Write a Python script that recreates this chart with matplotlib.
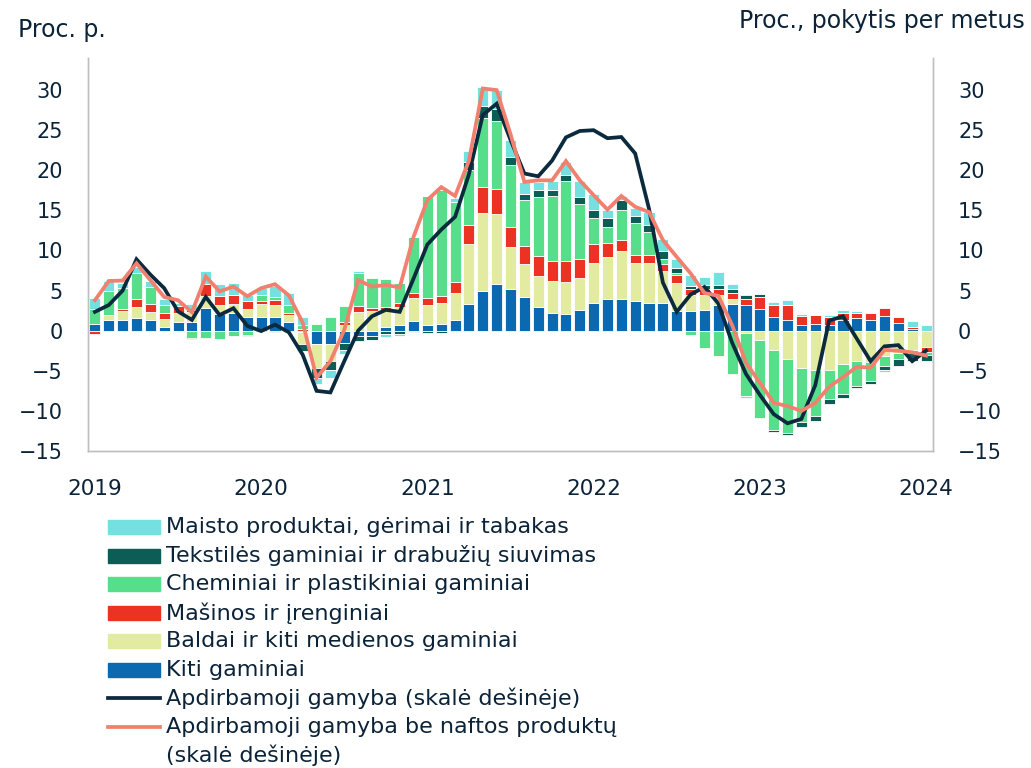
import numpy as np
import matplotlib

matplotlib.use("Agg")
import matplotlib.pyplot as plt
from matplotlib.patches import Rectangle
from matplotlib.lines import Line2D

# monthly observations, Jan 2019 .. Jan 2024 (61 months)
years = ["2019", "2020", "2021", "2022", "2023", "2024"]

kiti = [0.85, 1.3, 1.35, 1.55, 1.3, 0.45, 1.05, 1.1, 2.8, 2.1, 2.2, 1.65,
        1.75, 1.65, 1.05, -0.15, -1.65, -1.7, -1.5, -0.7, -0.65, 0.5, 0.65, 1.2,
        0.65, 0.8, 1.3, 3.3, 4.9, 5.8, 5.2, 4.25, 3.0, 2.2, 2.05, 2.6,
        3.5, 3.95, 3.95, 3.65, 3.5, 3.5, 2.5, 2.4, 2.6, 3.2, 3.35, 3.15,
        2.75, 1.7, 1.35, 0.75, 0.85, 0.75, 1.35, 1.55, 1.3, 1.85, 0.95, 0.2,
        0.0]
baldai = [0.0, 0.6, 1.15, 1.45, 1.05, 1.0, 1.2, 1.2, 1.5, 1.05, 1.1, 1.05,
          1.55, 1.6, 0.85, -1.5, -3.0, -2.05, 0.7, 2.35, 2.5, 2.05, 2.25, 2.9,
          2.55, 2.7, 3.45, 7.55, 9.8, 8.8, 5.2, 4.05, 3.8, 4.0, 4.05, 3.95,
          5.0, 5.3, 6.0, 4.85, 4.95, 3.95, 3.5, 2.1, 1.85, 1.2, 0.6, -0.3,
          -1.2, -2.45, -3.5, -4.65, -4.85, -4.85, -4.1, -3.8, -3.95, -3.1, -2.8, -2.35,
          -2.05]
masinos = [-0.4, 0.0, 0.25, 0.9, 0.95, 0.7, 0.85, 0.3, 1.5, 1.15, 1.15, 0.95,
           0.45, 0.55, 0.3, 0.15, 0.0, 0.0, 0.4, 0.7, 0.3, 0.35, 0.5, 0.6,
           0.85, 0.85, 1.3, 2.35, 3.2, 3.1, 2.5, 2.25, 2.5, 2.5, 2.55, 2.4,
           2.3, 1.65, 1.3, 0.95, 0.95, 0.9, 0.95, 0.75, 0.8, 0.8, 0.7, 0.8,
           1.5, 1.5, 1.8, 1.1, 1.1, 0.95, 0.8, 0.6, 0.85, 0.95, 0.75, 0.2,
           -0.55]
cheminiai = [1.85, 3.0, 2.55, 3.25, 2.15, 1.05, -0.15, -0.9, -0.85, -1.0, -0.6, -0.5,
             0.7, 0.4, 0.95, 0.6, 0.85, 1.75, 2.0, 4.2, 3.75, 3.5, 2.55, 6.95,
             12.7, 13.25, 9.95, 6.8, 8.6, 8.4, 7.75, 5.7, 7.4, 8.05, 10.05, 6.9,
             3.2, 2.05, 3.75, 3.95, 2.9, 0.6, 0.3, -0.5, -2.15, -3.1, -5.45, -7.9,
             -9.7, -9.95, -9.2, -6.75, -5.8, -3.7, -3.85, -3.1, -2.35, -1.25, -0.75, -0.4,
             -0.4]
tekstile = [0.0, 0.0, 0.0, 0.0, 0.0, 0.0, 0.0, -0.12, 0.0, 0.0, 0.0, -0.12,
            0.0, -0.15, 0.0, -0.9, -1.3, -1.1, -0.85, -0.55, -0.5, -0.45, -0.45, -0.2,
            -0.3, -0.25, 0.0, 1.0, 1.5, 1.6, 0.95, 0.75, 0.85, 0.85, 0.7, 0.8,
            1.05, 1.05, 1.35, 0.9, 0.9, 0.95, 0.6, 0.3, 0.4, 0.55, 0.55, 0.45,
            0.3, -0.2, -0.3, -0.55, -0.6, -0.55, -0.4, -0.2, -0.4, -0.6, -0.9, -1.0,
            -0.75]
maisto = [1.35, 1.3, 0.6, 0.8, 0.8, 0.8, 0.3, 0.7, 1.65, 1.5, 1.45, 0.85,
          0.85, 1.35, 1.6, 1.0, -0.7, -1.1, -0.5, 0.2, -0.15, -0.3, -0.2, 0.0,
          0.0, 0.3, 0.6, 1.45, 2.35, 2.3, 2.15, 1.55, 0.95, 1.1, 1.65, 2.05,
          2.05, 1.05, 0.5, 0.95, 1.55, 1.55, 1.05, 1.4, 1.05, 1.6, 0.6, -0.2,
          0.2, 0.35, 0.7, 0.2, 0.05, 0.3, 0.4, 0.35, 0.1, -0.2, 0.15, 0.75,
          0.65]

# right axis: annual change of manufacturing output
gamyba = [2.35, 3.2, 5.0, 8.9, 7.0, 5.3, 2.4, 1.35, 4.2, 1.95, 2.8, 0.6,
          -0.05, 0.75, -0.2, -3.0, -7.5, -7.7, -3.8, 0.0, 1.8, 2.6, 2.35, 6.5,
          10.75, 12.6, 14.2, 19.5, 26.9, 28.3, 23.8, 19.6, 19.25, 21.2, 24.1, 24.9,
          25.0, 24.0, 24.15, 22.1, 15.2, 6.0, 2.35, 4.5, 5.45, 3.4, -1.5, -5.4,
          -8.0, -10.4, -11.55, -11.0, -6.8, 1.25, 1.8, -1.0, -3.8, -1.95, -1.8, -3.8,
          -2.5]
be_naftos = [3.8, 6.2, 6.25, 8.4, 6.3, 4.2, 3.8, 2.3, 6.75, 4.9, 5.5, 4.3,
             5.3, 5.8, 4.4, 1.0, -5.85, -3.8, 0.1, 6.3, 5.5, 5.7, 5.4, 11.7,
             16.3, 17.9, 16.8, 21.2, 30.2, 30.0, 24.5, 18.55, 18.75, 18.75, 21.15, 18.75,
             16.9, 15.1, 16.8, 15.45, 14.8, 11.3, 9.2, 7.15, 4.7, 4.35, 0.7, -4.0,
             -6.5, -9.0, -9.4, -10.0, -9.0, -7.0, -5.8, -4.5, -4.6, -2.4, -2.5, -2.7,
             -3.1]

TXT = "#0B2338"
series = [
    ("Kiti gaminiai", kiti, "#0A69B0"),
    ("Baldai ir kiti medienos gaminiai", baldai, "#E2EBA0"),
    ("Mašinos ir įrenginiai", masinos, "#EC3223"),
    ("Cheminiai ir plastikiniai gaminiai", cheminiai, "#56DE8A"),
    ("Tekstilės gaminiai ir drabužių siuvimas", tekstile, "#0B5D55"),
    ("Maisto produktai, gėrimai ir tabakas", maisto, "#75E0E0"),
]
lines = [
    ("Apdirbamoji gamyba (skalė dešinėje)", gamyba, "#0C2A3E"),
    ("Apdirbamoji gamyba be naftos produktų\n(skalė dešinėje)", be_naftos, "#F2806F"),
]

plt.rcParams["font.family"] = "DejaVu Sans"
fig = plt.figure(figsize=(10.31, 7.68), dpi=100)
ax = fig.add_axes([88 / 1031, 1 - 451 / 768, (933 - 88) / 1031, (451 - 58) / 768])

x = np.arange(len(kiti))
pos = np.zeros(len(x))
neg = np.zeros(len(x))
for label, vals, color in series:
    v = np.asarray(vals, dtype=float)
    base = np.where(v >= 0, pos, neg)
    ax.bar(x, v, bottom=base, width=0.8, color=color, edgecolor="white", linewidth=0.6)
    pos += np.clip(v, 0, None)
    neg += np.clip(v, None, 0)

ax2 = ax.twinx()
for label, vals, color in lines:
    ax2.plot(x, vals, color=color, lw=2.7, solid_joinstyle="miter")

ticks = list(range(-15, 31, 5))
for a in (ax, ax2):
    a.set_ylim(-15, 34)
    a.set_yticks(ticks)
    a.set_yticklabels([str(v).replace("-", "\u2212") for v in ticks])
    a.set_xlim(-0.5, 60.5)
    a.tick_params(length=0, labelsize=15, colors=TXT, pad=18)
    a.spines["top"].set_visible(False)
    for s in ("left", "right", "bottom"):
        a.spines[s].set_color("#BFBFBF")
        a.spines[s].set_linewidth(1.0)
ax.set_xticks(np.arange(0, 61, 12))
ax.set_xticklabels(years)
ax.tick_params(axis="x", pad=20, labelsize=15.5)

fig.text(18 / 1031, 1 - 30 / 768, "Proc. p.", fontsize=17, color=TXT, va="center", ha="left")
fig.text(1025 / 1031, 1 - 21 / 768, "Proc., pokytis per metus", fontsize=17, color=TXT,
         va="center", ha="right")

# legend, drawn in figure pixels
W, H = 1031, 768
row_y = [527, 556, 584, 613, 641, 670, 698, 727]
step = 28.3
entries = [(s[0], s[2], "patch") for s in reversed(series)] + [(l[0], l[2], "line") for l in lines]
for (label, color, kind), yy in zip(entries, row_y):
    if kind == "patch":
        fig.patches.append(Rectangle((108 / W, 1 - (yy + 7) / H), 52 / W, 14 / H,
                                     transform=fig.transFigure, color=color))
    else:
        fig.lines.append(Line2D([108 / W, 160 / W], [1 - yy / H, 1 - yy / H],
                                transform=fig.transFigure, color=color, lw=2.7))
    for k, part in enumerate(label.split("\n")):
        fig.text(166 / W, 1 - (yy + k * step) / H, part, fontsize=16, color=TXT,
                 va="center", ha="left")

fig.savefig("out.png", dpi=100)
